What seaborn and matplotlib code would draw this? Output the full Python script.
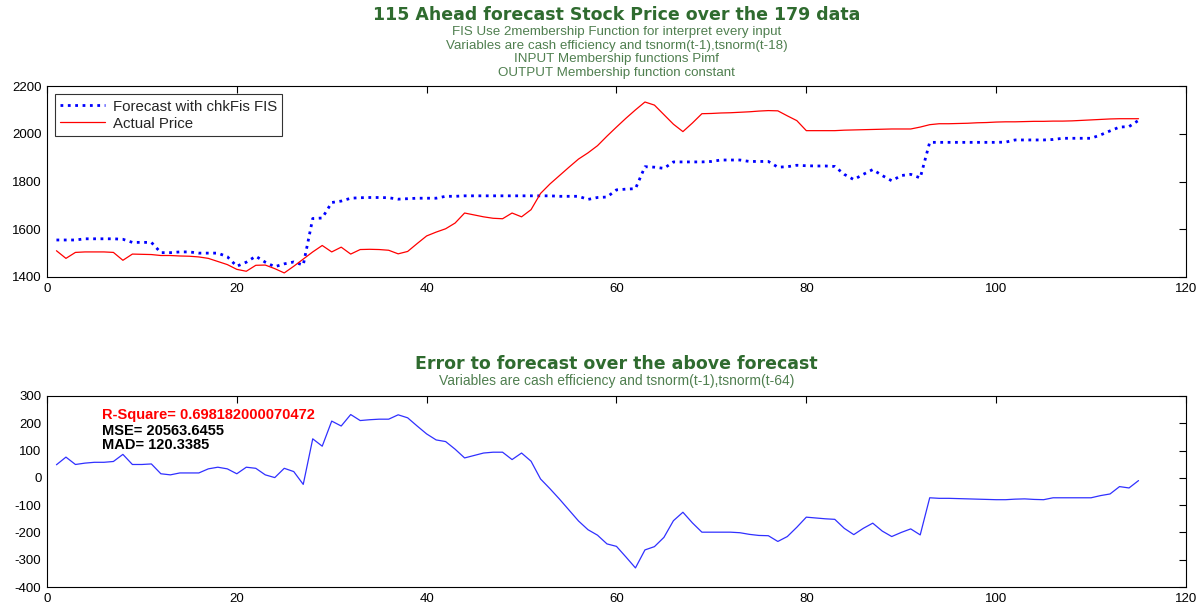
import numpy as np
import pandas as pd
import matplotlib
matplotlib.use('Agg')
import matplotlib.pyplot as plt
import seaborn as sns

####################################################
# values, one per step (x = 1..115)
steps = list(range(1, 116))

forecast = [
    1555, 1555, 1555, 1560, 1560, 1560, 1560, 1558, 1545, 1545,
    1545, 1502, 1502, 1505, 1505, 1500, 1500, 1500, 1485, 1445,
    1462, 1487, 1462, 1443, 1455, 1463, 1450, 1645, 1647, 1712,
    1718, 1730, 1732, 1733, 1733, 1732, 1726, 1728, 1730, 1730,
    1730, 1738, 1738, 1740, 1740, 1740, 1740, 1740, 1740, 1740,
    1740, 1740, 1740, 1738, 1738, 1738, 1725, 1733, 1735, 1765,
    1768, 1770, 1862, 1860, 1855, 1882, 1882, 1882, 1882, 1884,
    1890, 1890, 1890, 1884, 1884, 1884, 1860, 1862, 1868, 1866,
    1865, 1865, 1863, 1830, 1808, 1830, 1850, 1825, 1803, 1825,
    1830, 1815, 1964, 1964, 1964, 1964, 1964, 1964, 1964, 1964,
    1965, 1974, 1974, 1974, 1974, 1976, 1981, 1981, 1981, 1981,
    1995, 2012, 2028, 2030, 2056,
]

actual = [
    1510, 1478, 1503, 1505, 1505, 1505, 1503, 1470, 1496, 1495,
    1494, 1490, 1490, 1488, 1487, 1484, 1478, 1465, 1452, 1432,
    1424, 1449, 1450, 1435, 1417, 1445, 1475, 1505, 1532, 1505,
    1525, 1496, 1515, 1516, 1515, 1512, 1497, 1507, 1540, 1572,
    1588, 1602, 1626, 1668, 1660, 1652, 1646, 1644, 1668, 1652,
    1682, 1750, 1790, 1825, 1860, 1894, 1920, 1950, 1990, 2028,
    2065, 2100, 2133, 2120, 2080, 2040, 2009, 2045, 2084, 2085,
    2087, 2088, 2090, 2092, 2095, 2097, 2096, 2075, 2055, 2013,
    2013, 2013, 2013, 2015, 2016, 2017, 2018, 2019, 2020, 2020,
    2020, 2028, 2038, 2042, 2042, 2043, 2044, 2046, 2047, 2049,
    2050, 2050, 2051, 2052, 2052, 2053, 2053, 2054, 2056, 2058,
    2060, 2062, 2063, 2063, 2063,
]

error = [
    48, 76, 49, 54, 57, 57, 60, 86, 49, 49,
    51, 15, 11, 18, 18, 18, 33, 39, 33, 15,
    39, 35, 11, 1, 35, 23, -24, 143, 116, 208,
    190, 232, 210, 213, 215, 215, 231, 220, 190, 161,
    139, 133, 105, 73, 82, 91, 94, 94, 67, 91,
    61, -4, -40, -78, -118, -158, -190, -210, -242, -251,
    -290, -330, -264, -252, -218, -157, -126, -165, -199, -199,
    -199, -199, -201, -207, -211, -212, -233, -215, -181, -144,
    -147, -150, -152, -185, -208, -185, -166, -195, -215, -200,
    -187, -209, -73, -75, -75, -76, -77, -78, -79, -80,
    -80, -78, -77, -79, -80, -73, -73, -73, -73, -73,
    -65, -59, -32, -37, -10,
]

top_ticks = [1400, 1600, 1800, 2000, 2200]
bottom_ticks = [-400, -300, -200, -100, 0, 100, 200, 300]
x_ticks = [0, 20, 40, 60, 80, 100, 120]

title_top = '115 Ahead forecast Stock Price over the 179 data'
subtitle_top = ['FIS Use 2membership Function for interpret every input',
                'Variables are cash efficiency and tsnorm(t-1),tsnorm(t-18)',
                'INPUT Membership functions Pimf',
                'OUTPUT Membership function constant']
title_bottom = 'Error to forecast over the above forecast'
subtitle_bottom = 'Variables are cash efficiency and tsnorm(t-1),tsnorm(t-64)'
stats = ['R-Square= 0.698182000070472', 'MSE= 20563.6455', 'MAD= 120.3385']
stats_y = [229, 170, 122]

GREEN = '#2f6b2f'
GREEN_LIGHT = '#4f7f4f'


def style_axes(ax, yticks):
    ax.set_xlim(0, 120)
    ax.set_xticks(x_ticks)
    ax.set_ylim(yticks[0], yticks[-1])
    ax.set_yticks(yticks)
    ax.set_xlabel('')
    ax.set_ylabel('')
    ax.tick_params(direction='in', length=5, width=0.8, top=True, right=True,
                   labelsize=9.5, colors='black', pad=4)
    for s in ax.spines.values():
        s.set_visible(True)
        s.set_linewidth(0.8)
        s.set_color('black')


def plot_chart():
    sns.set_theme(style='white')
    plt.rcParams['font.family'] = ['Liberation Sans', 'DejaVu Sans']
    plt.rcParams['axes.unicode_minus'] = False

    df = pd.DataFrame({'step': steps, 'forecast': forecast,
                       'actual': actual, 'error': error})

    fig = plt.figure(figsize=(12.01, 6.04), dpi=100)
    ax1 = fig.add_axes([0.0391, 0.5414, 0.9484, 0.3162])
    ax2 = fig.add_axes([0.0391, 0.0281, 0.9484, 0.3163])

    sns.lineplot(data=df, x='step', y='forecast', ax=ax1, color='#0000ff',
                 linestyle=':', linewidth=2.0, label='Forecast with chkFis FIS')
    sns.lineplot(data=df, x='step', y='actual', ax=ax1, color='#ff0000',
                 linewidth=0.9, label='Actual Price')
    style_axes(ax1, top_ticks)
    leg = ax1.legend(loc='upper left', fontsize=10.8, frameon=True, fancybox=False,
                     borderpad=0.35, handlelength=3.0, handletextpad=0.5,
                     labelspacing=0.2, borderaxespad=0.55)
    leg.get_frame().set_edgecolor('black')
    leg.get_frame().set_linewidth(0.8)

    sns.lineplot(data=df, x='step', y='error', ax=ax2, color='#3030ff',
                 linewidth=0.9)
    style_axes(ax2, bottom_ticks)

    colors = ['#ff0000', 'black', 'black']
    for txt, yv, c in zip(stats, stats_y, colors):
        ax2.text(5.8, yv, txt, color=c, fontsize=10.5, fontweight='bold', va='center')

    cx = 0.0391 + 0.9484 / 2
    fig.text(cx, 0.975, title_top, ha='center', va='center', fontsize=12.5,
             fontweight='bold', color=GREEN, family='DejaVu Sans')
    for i, line in enumerate(subtitle_top):
        fig.text(cx, 0.947 - i * 0.0227, line, ha='center', va='center',
                 fontsize=9.6, color=GREEN_LIGHT)
    fig.text(cx, 0.397, title_bottom, ha='center', va='center', fontsize=12.5,
             fontweight='bold', color=GREEN, family='DejaVu Sans')
    fig.text(cx, 0.369, subtitle_bottom, ha='center', va='center', fontsize=10,
             color=GREEN_LIGHT)

    fig.savefig('out.png', dpi=100)


if __name__ == '__main__':
    plot_chart()
